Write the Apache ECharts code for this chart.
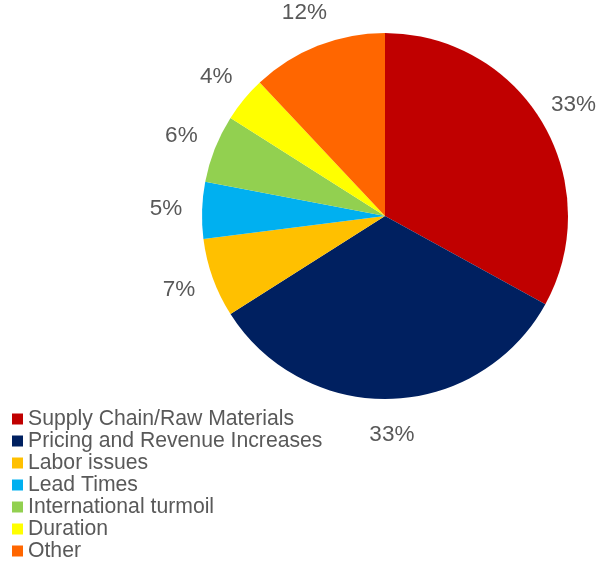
<!DOCTYPE html>
<html>
<head>
<meta charset="utf-8">
<script src="https://cdn.jsdelivr.net/npm/echarts@6/dist/echarts.min.js"></script>
<style>
  html, body { margin: 0; padding: 0; background: #fff; }
  #chart { width: 608px; height: 561px; }
</style>
</head>
<body>
<div id="chart"></div>
<script>
// Share of responses by challenge (percent)
const categories = [
  'Supply Chain/Raw Materials',
  'Pricing and Revenue Increases',
  'Labor issues',
  'Lead Times',
  'International turmoil',
  'Duration',
  'Other'
];
const shares = [33, 33, 7, 5, 6, 4, 12];
const sliceColors = ['#C00000', '#002060', '#FFC000', '#00B0F0', '#92D050', '#FFFF00', '#FF6600'];

const textGray = '#595959';
const fontFamily = '"Liberation Sans", Arial, sans-serif';

const pieData = categories.map((name, i) => ({ name: name, value: shares[i] }));

const chart = echarts.init(document.getElementById('chart'), null, { renderer: 'canvas' });

chart.setOption({
  backgroundColor: '#ffffff',
  animation: false,
  color: sliceColors,
  legend: {
    orient: 'vertical',
    left: 12,
    top: 408,
    height: 200,
    padding: 0,
    itemGap: 0,
    itemWidth: 11,
    itemHeight: 11,
    itemTextGap: 4,
    icon: 'rect',
    selectedMode: false,
    data: categories,
    textStyle: {
      color: textGray,
      fontSize: 21.2,
      lineHeight: 22,
      fontFamily: fontFamily
    }
  },
  series: [
    {
      // the pie itself
      type: 'pie',
      center: [385, 216],
      radius: 183,
      startAngle: 90,
      clockwise: true,
      avoidLabelOverlap: false,
      silent: true,
      label: { show: false },
      labelLine: { show: false },
      itemStyle: { borderWidth: 0 },
      data: pieData
    },
    {
      // invisible ring just outside the pie that carries the percentage labels
      type: 'pie',
      center: [385, 216],
      radius: [209, 223],
      startAngle: 90,
      clockwise: true,
      avoidLabelOverlap: false,
      silent: true,
      itemStyle: { color: 'rgba(0,0,0,0)', borderWidth: 0 },
      label: {
        show: true,
        position: 'inside',
        formatter: '{c}%',
        color: textGray,
        fontSize: 22.5,
        fontFamily: fontFamily,
        textBorderColor: 'transparent',
        textBorderWidth: 0,
        textShadowBlur: 0
      },
      labelLine: { show: false },
      data: pieData
    }
  ]
});
</script>
</body>
</html>
